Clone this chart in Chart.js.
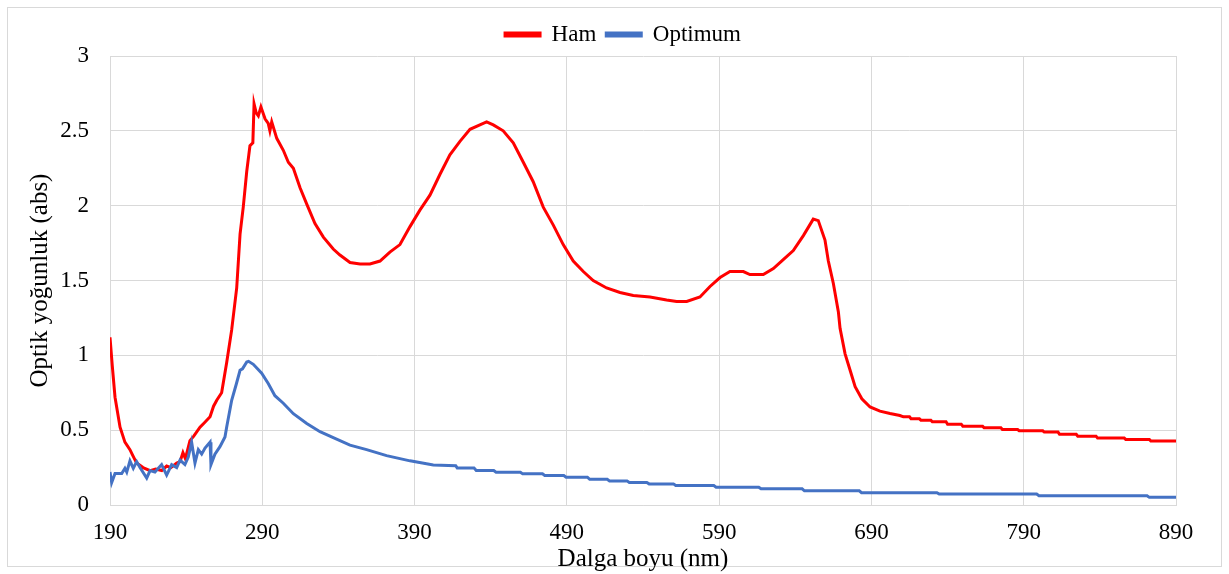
<!DOCTYPE html>
<html lang="tr">
<head>
<meta charset="utf-8">
<title>Optik yoğunluk</title>
<script src="https://cdn.jsdelivr.net/npm/chart.js@4.4.1/dist/chart.umd.min.js"></script>
<style>
  html, body { margin: 0; padding: 0; background: #fff; }
  #spectrum { display: block; }
</style>
</head>
<body>
<canvas id="spectrum" width="1229" height="574"></canvas>
<script>
// Axis ticks
const xTicks = [190, 290, 390, 490, 590, 690, 790, 890];
const yTicks = [0, 0.5, 1, 1.5, 2, 2.5, 3];

// Ham (raw) spectrum: wavelength (nm) / absorbance
const hamNm = [
  190, 191.5, 193.3, 196.6, 199.8, 203.1, 205, 207.5, 211.7, 216.3, 220, 224,
  227.2, 230, 233.8, 236, 237.9, 239.5, 242.5, 245, 249.1, 252, 255.7, 258,
  260.1, 263.3, 266.6, 269.9, 273.2, 275.4, 277.5, 279.8, 281.9, 283.8, 284.6,
  286, 287.4, 289.1, 291.8, 293.9, 295, 296.2, 299.5, 303.8, 307.1, 310.4,
  314.8, 319.2, 324.6, 330.1, 336.6, 341, 347.6, 354.2, 360.7, 367.3, 373.8,
  380.4, 387, 393.5, 400.1, 406.7, 413.2, 419.8, 426.4, 432.9, 437.3, 441.7,
  448.2, 454.8, 461.4, 467.9, 474.5, 481.1, 487.6, 494.2, 500.8, 507.3, 516.1,
  524.9, 533.6, 544.6, 555.5, 562.1, 568.7, 577.4, 584, 590.6, 597.1, 605.9,
  610.2, 619, 625.6, 632.1, 638.7, 645.3, 651.8, 655.1, 659.5, 661.7, 665,
  668.3, 669.4, 672.7, 676, 679.3, 683.7, 689.1, 695.6, 702.2, 708.7,
  711, 715, 716, 721.5, 722.5, 729, 730, 739, 740, 749, 750, 763, 764, 775,
  776, 786, 787, 802.5, 803.5, 812.5, 813.5, 824.5, 825.5, 837.5, 838.5, 856,
  857, 872.5, 873.5, 890
];
const hamAbs = [
  1.12, 0.93, 0.72, 0.52, 0.42, 0.37, 0.33, 0.28, 0.25, 0.23, 0.24, 0.23,
  0.26, 0.25, 0.28, 0.29, 0.35, 0.31, 0.43, 0.46, 0.52, 0.55, 0.59, 0.66,
  0.70, 0.75, 0.95, 1.17, 1.45, 1.81, 1.99, 2.23, 2.40, 2.42, 2.68,
  2.62, 2.60, 2.66, 2.58, 2.55, 2.50, 2.56, 2.45, 2.37, 2.29, 2.25,
  2.12, 2.01, 1.88, 1.79, 1.71, 1.67, 1.62, 1.61, 1.61, 1.63, 1.69,
  1.74, 1.86, 1.97, 2.07, 2.21, 2.34, 2.43, 2.51, 2.54, 2.56, 2.54,
  2.50, 2.42, 2.29, 2.16, 1.99, 1.87, 1.74, 1.63, 1.56, 1.50, 1.45,
  1.42, 1.40, 1.39, 1.37, 1.36, 1.36, 1.39, 1.46, 1.52, 1.56, 1.56,
  1.54, 1.54, 1.58, 1.64, 1.70, 1.80, 1.91, 1.90, 1.77, 1.63, 1.48,
  1.29, 1.18, 1.01, 0.90, 0.79, 0.71, 0.655, 0.627, 0.611, 0.598,
  0.589, 0.589, 0.576, 0.576, 0.567, 0.567, 0.556, 0.556, 0.54, 0.54, 0.527, 0.527, 0.516, 0.516,
  0.504, 0.504, 0.496, 0.496, 0.487, 0.487, 0.473, 0.473, 0.46, 0.46, 0.447, 0.447,
  0.438, 0.438, 0.427, 0.427
];

// Optimum spectrum
const optNm = [
  190, 191.1, 193.3, 197.7, 199.8, 201, 203.1, 205.3, 207.5, 209.7, 214.1,
  216.3, 219.5, 223.9, 227.2, 230.5, 233.8, 236, 239.2, 241.4, 243.6, 245.8,
  248, 250.2, 252.4, 255.7, 256.3, 258.9, 262.2, 265.5, 266.6, 269.9, 273,
  275.4, 277, 279.8, 281, 284.1, 289.6, 294, 298.3, 303.8, 310.4, 319.2,
  327.9, 336.6, 347.6, 358.5, 371.6, 387, 402.3,
  417, 418, 429, 430.5, 442, 443.5, 459.5, 461, 474, 475.5, 488, 489.5,
  503.5, 505, 516.5, 518, 529.5, 531, 542.5, 544, 560, 561.5, 586.5, 588,
  616, 617.5, 644.5, 646, 682, 683.5, 733, 734.5, 798.5, 800, 871, 872.5, 890
];
const optAbs = [
  0.22, 0.15, 0.21, 0.21, 0.245, 0.22, 0.295, 0.245, 0.29, 0.25, 0.18,
  0.23, 0.22, 0.27, 0.20, 0.27, 0.25, 0.30, 0.27, 0.32, 0.42, 0.28,
  0.37, 0.34, 0.38, 0.42, 0.27, 0.34, 0.39, 0.455, 0.52, 0.70, 0.81,
  0.90, 0.91, 0.955, 0.96, 0.94, 0.88, 0.81, 0.73, 0.68, 0.61, 0.545,
  0.49, 0.45, 0.40, 0.37, 0.33, 0.295, 0.268,
  0.263, 0.248, 0.248, 0.23, 0.23, 0.219, 0.219, 0.208, 0.208, 0.197, 0.197, 0.186,
  0.186, 0.172, 0.172, 0.161, 0.161, 0.15, 0.15, 0.141, 0.141, 0.13, 0.13, 0.119,
  0.119, 0.108, 0.108, 0.095, 0.095, 0.082, 0.082, 0.073, 0.073, 0.062, 0.062, 0.051, 0.051
];

const serif = "'Liberation Serif', 'Times New Roman', serif";
const gridGray = '#d9d9d9';

const toPoints = (xs, ys) => xs.map((x, i) => ({ x, y: ys[i] }));

// thin frame around the whole chart
const frame = {
  id: 'frame',
  beforeDraw(chart) {
    const ctx = chart.ctx;
    ctx.save();
    ctx.strokeStyle = gridGray;
    ctx.lineWidth = 1;
    ctx.strokeRect(7.5, 7.5, chart.width - 15, chart.height - 15);
    ctx.restore();
  }
};

// nudge the legend right so it sits over the middle of the plot
const legendShift = {
  id: 'legendShift',
  afterLayout(chart) {
    const lg = chart.legend;
    if (!lg) return;
    lg.left += 35;
    lg.right += 35;
  }
};

new Chart(document.getElementById('spectrum'), {
  type: 'line',
  data: {
    datasets: [
      {
        label: 'Ham',
        data: toPoints(hamNm, hamAbs),
        borderColor: '#ff0000',
        backgroundColor: '#ff0000',
        borderWidth: 3,
        pointRadius: 0,
        tension: 0,
        order: 1
      },
      {
        // drawn over the red curve
        label: 'Optimum',
        data: toPoints(optNm, optAbs),
        borderColor: '#4472c4',
        backgroundColor: '#4472c4',
        borderWidth: 3,
        pointRadius: 0,
        tension: 0,
        order: 0
      }
    ]
  },
  options: {
    responsive: false,
    animation: false,
    layout: { padding: { top: 13, right: 53, bottom: 0, left: 0 } },
    plugins: {
      legend: {
        position: 'top',
        labels: {
          color: '#000',
          font: { family: serif, size: 23 },
          boxWidth: 35,
          boxHeight: 3,
          padding: 10,
          sort: (a, b) => a.datasetIndex - b.datasetIndex
        }
      },
      tooltip: { enabled: false }
    },
    scales: {
      x: {
        type: 'linear',
        min: 190,
        max: 890,
        afterBuildTicks: scale => { scale.ticks = xTicks.map(v => ({ value: v })); },
        afterFit: scale => { scale.height = 69; },
        grid: { color: gridGray, drawTicks: false },
        border: { color: gridGray },
        ticks: {
          color: '#000',
          font: { family: serif, size: 23 },
          padding: 14,
          maxRotation: 0,
          callback: v => String(v)
        },
        title: {
          display: true,
          text: 'Dalga boyu (nm)',
          color: '#000',
          font: { family: serif, size: 25 },
          padding: { top: 0, bottom: 0 }
        }
      },
      y: {
        min: 0,
        max: 3,
        afterBuildTicks: scale => { scale.ticks = yTicks.map(v => ({ value: v })); },
        afterFit: scale => { scale.width = 110; },
        grid: { color: gridGray, drawTicks: false },
        border: { color: gridGray },
        ticks: {
          color: '#000',
          font: { family: serif, size: 23 },
          padding: 21,
          callback: v => String(v)
        },
        title: {
          display: true,
          text: 'Optik yoğunluk (abs)',
          color: '#000',
          font: { family: serif, size: 25 },
          padding: { top: 25, bottom: 0 }
        }
      }
    }
  },
  plugins: [frame, legendShift]
});
</script>
</body>
</html>
